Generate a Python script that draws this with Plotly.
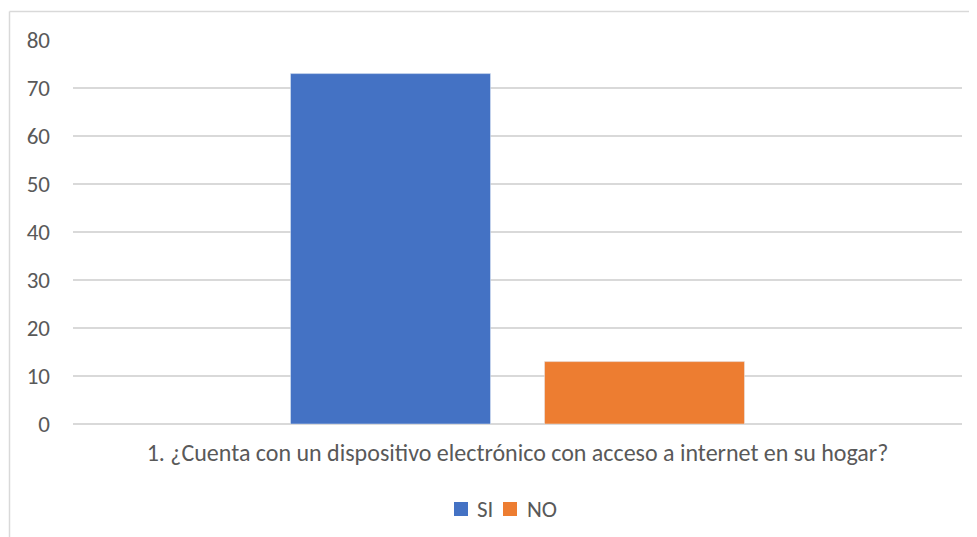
import plotly.graph_objects as go

categories = ["1. ¿Cuenta con un dispositivo electrónico con acceso a internet en su hogar?"]
series_names = ["SI", "NO"]
si_values = [73]
no_values = [13]
colors = ["#4472C4", "#ED7D31"]
y_ticks = [0, 10, 20, 30, 40, 50, 60, 70, 80]

FONT = "Carlito, Lato, Liberation Sans, sans-serif"
TXT = "#595959"
FS = 23

fig = go.Figure()
fig.add_trace(go.Bar(name=series_names[0], x=categories, y=si_values, marker_color=colors[0]))
fig.add_trace(go.Bar(name=series_names[1], x=categories, y=no_values, marker_color=colors[1]))

OFF = 8  # page body margin
W, H = 977 - OFF, 537 - OFF
L, T = 73 - OFF, 40 - OFF
R = W - (962 - OFF)
B = H - (424 - OFF)
pw, ph = W - L - R, H - T - B

def px2paper_x(px):
    return (px - OFF - L) / pw

def px2paper_y(py):
    return (H - B - (py - OFF)) / ph

shapes = [
    dict(type="line", xref="paper", yref="paper", x0=px2paper_x(9.5), x1=px2paper_x(9.5),
         y0=px2paper_y(11.5), y1=px2paper_y(545), line=dict(color="#D9D9D9", width=1.5)),
    dict(type="line", xref="paper", yref="paper", x0=px2paper_x(9.5), x1=px2paper_x(985),
         y0=px2paper_y(11.5), y1=px2paper_y(11.5), line=dict(color="#D9D9D9", width=1.5)),
]
annotations = []
# manual legend (Excel style: small square + label)
legend_slots = [(454, 475), (503, 525)]
for (sx, tx), name, col in zip(legend_slots, series_names, colors):
    shapes.append(dict(type="rect", xref="paper", yref="paper",
                       x0=px2paper_x(sx), x1=px2paper_x(sx + 14),
                       y0=px2paper_y(516), y1=px2paper_y(502),
                       fillcolor=col, line=dict(width=0)))
    annotations.append(dict(text=name, xref="paper", yref="paper", x=px2paper_x(tx), y=px2paper_y(509),
                            xanchor="left", yanchor="middle", showarrow=False,
                            font=dict(family=FONT, size=FS, color=TXT)))

fig.update_layout(
    width=W, height=H,
    margin=dict(l=L, r=R, t=T, b=B, autoexpand=False),
    paper_bgcolor="white", plot_bgcolor="white",
    barmode="group", bargap=0.4286, bargroupgap=0.2126,
    font=dict(family=FONT, size=FS, color=TXT),
    showlegend=False,
    xaxis=dict(showgrid=False, showline=False, ticks="", ticklabelstandoff=12,
               tickfont=dict(family=FONT, size=24, color=TXT)),
    yaxis=dict(range=[0, 80], tickvals=y_ticks, showgrid=True, gridcolor="#D9D9D9", gridwidth=1.5,
               zeroline=True, zerolinecolor="#D9D9D9", zerolinewidth=1.5, showline=False,
               ticks="", ticklabelstandoff=22, tickfont=dict(family=FONT, size=FS, color=TXT)),
    shapes=shapes,
    annotations=annotations,
)

fig.write_html("out.html")
